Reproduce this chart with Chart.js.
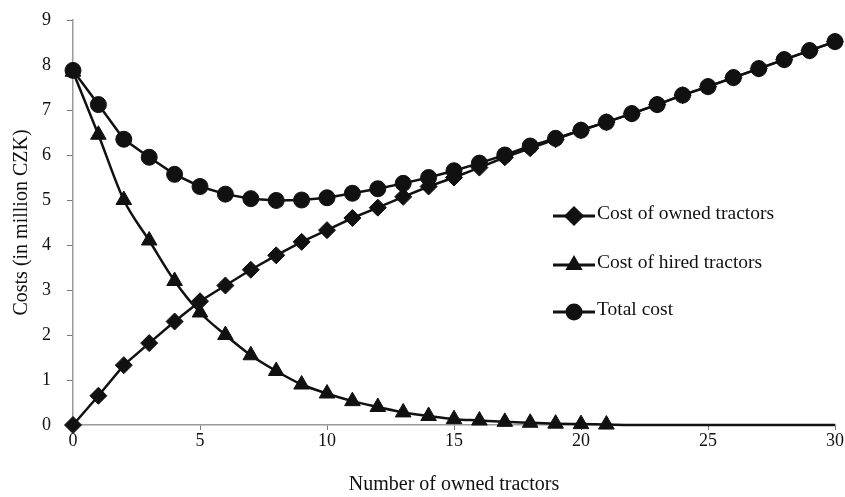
<!DOCTYPE html>
<html>
<head>
<meta charset="utf-8">
<script src="https://cdn.jsdelivr.net/npm/chart.js@4.4.1/dist/chart.umd.min.js"></script>
<style>
  html, body { margin: 0; padding: 0; background: #fff; }
  #wrap { width: 845px; height: 497px; position: relative; }
</style>
</head>
<body>
<div id="wrap"><canvas id="costChart"></canvas></div>
<script>
// number of owned tractors
const tractors = [0, 1, 2, 3, 4, 5, 6, 7, 8, 9, 10, 11, 12, 13, 14, 15, 16, 17, 18, 19, 20, 21, 22, 23, 24, 25, 26, 27, 28, 29, 30];
// costs in million CZK
const ownedCost = [0, 0.65, 1.33, 1.82, 2.3, 2.75, 3.1, 3.45, 3.77, 4.07, 4.33, 4.6, 4.83, 5.07, 5.3, 5.5, 5.72, 5.95, 6.15, 6.35, 6.55, 6.73, 6.92, 7.12, 7.33, 7.52, 7.72, 7.92, 8.12, 8.32, 8.52];
const hiredCost = [7.85, 6.45, 5.0, 4.1, 3.2, 2.5, 2.0, 1.55, 1.2, 0.9, 0.7, 0.53, 0.4, 0.28, 0.2, 0.13, 0.1, 0.07, 0.05, 0.03, 0.02, 0.01, 0, 0, 0, 0, 0, 0, 0, 0, 0];
const totalCost = [7.88, 7.12, 6.35, 5.95, 5.57, 5.3, 5.13, 5.03, 4.99, 5.0, 5.05, 5.15, 5.25, 5.37, 5.5, 5.65, 5.82, 6.0, 6.2, 6.37, 6.55, 6.73, 6.92, 7.12, 7.33, 7.52, 7.72, 7.92, 8.12, 8.32, 8.52];
const lastHiredMarker = 21; // hired markers stop here, the line runs on along zero

const serif = '"Liberation Serif", "DejaVu Serif", serif';
const ink = '#111';

function toPoints(ys) {
  return tractors.map((x, i) => ({ x: x, y: ys[i] }));
}

// legend drawn inside the plot, like the original
const innerLegend = {
  id: 'innerLegend',
  afterDraw(chart) {
    const c = chart.ctx;
    const rows = [
      { y: 216, style: 'rectRot', r: 8 },
      { y: 265, style: 'triangle', r: 7 },
      { y: 312, style: 'circle', r: 7 }
    ];
    const x0 = 553, x1 = 595;
    c.save();
    rows.forEach((row, i) => {
      c.strokeStyle = ink;
      c.lineWidth = 3;
      c.beginPath();
      c.moveTo(x0, row.y);
      c.lineTo(x1, row.y);
      c.stroke();
      c.fillStyle = ink;
      Chart.helpers.drawPoint(c, { pointStyle: row.style, radius: row.r, borderWidth: 1 }, (x0 + x1) / 2, row.y);
      c.fillStyle = '#111';
      c.font = '19.5px ' + serif;
      c.textBaseline = 'middle';
      c.fillText(chart.data.datasets[i].label, x1 + 2, row.y - 2);
    });
    c.restore();
  }
};

const ctx = document.getElementById('costChart').getContext('2d');
new Chart(ctx, {
  type: 'line',
  data: {
    datasets: [
      {
        label: 'Cost of owned tractors',
        data: toPoints(ownedCost),
        borderColor: ink,
        backgroundColor: ink,
        borderWidth: 2.5,
        pointStyle: 'rectRot',
        pointRadius: 8.5,
        pointBorderWidth: 1,
        tension: 0,
        clip: false
      },
      {
        label: 'Cost of hired tractors',
        data: toPoints(hiredCost),
        borderColor: ink,
        backgroundColor: ink,
        borderWidth: 2.5,
        pointStyle: 'triangle',
        pointRadius: tractors.map(x => x <= lastHiredMarker ? 9 : 0),
        pointBorderWidth: 1,
        cubicInterpolationMode: 'monotone',
        clip: false
      },
      {
        label: 'Total cost',
        data: toPoints(totalCost),
        borderColor: ink,
        backgroundColor: ink,
        borderWidth: 2.5,
        pointStyle: 'circle',
        pointRadius: 8,
        pointBorderWidth: 1,
        tension: 0,
        clip: false
      }
    ]
  },
  options: {
    responsive: true,
    maintainAspectRatio: false,
    animation: false,
    layout: { padding: { left: 8, right: 6, top: 20, bottom: 0 } },
    plugins: {
      legend: { display: false },
      tooltip: { enabled: false }
    },
    scales: {
      x: {
        type: 'linear',
        min: 0,
        max: 30,
        border: { color: '#9a9a9a', width: 1.5 },
        grid: { drawOnChartArea: false, drawTicks: true, tickLength: 5, color: '#777' },
        ticks: { stepSize: 5, color: '#111', font: { family: serif, size: 18 }, padding: 0 },
        title: { display: true, text: 'Number of owned tractors', color: '#111', font: { family: serif, size: 20 }, padding: { top: 0, bottom: 0 } },
        afterFit(scale) { scale.height = 72; }
      },
      y: {
        min: 0,
        max: 9,
        border: { color: '#9a9a9a', width: 1.5 },
        grid: { drawOnChartArea: false, drawTicks: true, tickLength: 6, color: '#777' },
        ticks: { stepSize: 1, color: '#111', font: { family: serif, size: 18 }, padding: 16 },
        title: { display: true, text: 'Costs (in million CZK)', color: '#111', font: { family: serif, size: 20 }, padding: { top: 2, bottom: 0 } },
        afterFit(scale) {
          scale.width = 65;
          scale.paddingTop = 0;
          scale.paddingBottom = 0;
        }
      }
    }
  },
  plugins: [innerLegend]
});
</script>
</body>
</html>
